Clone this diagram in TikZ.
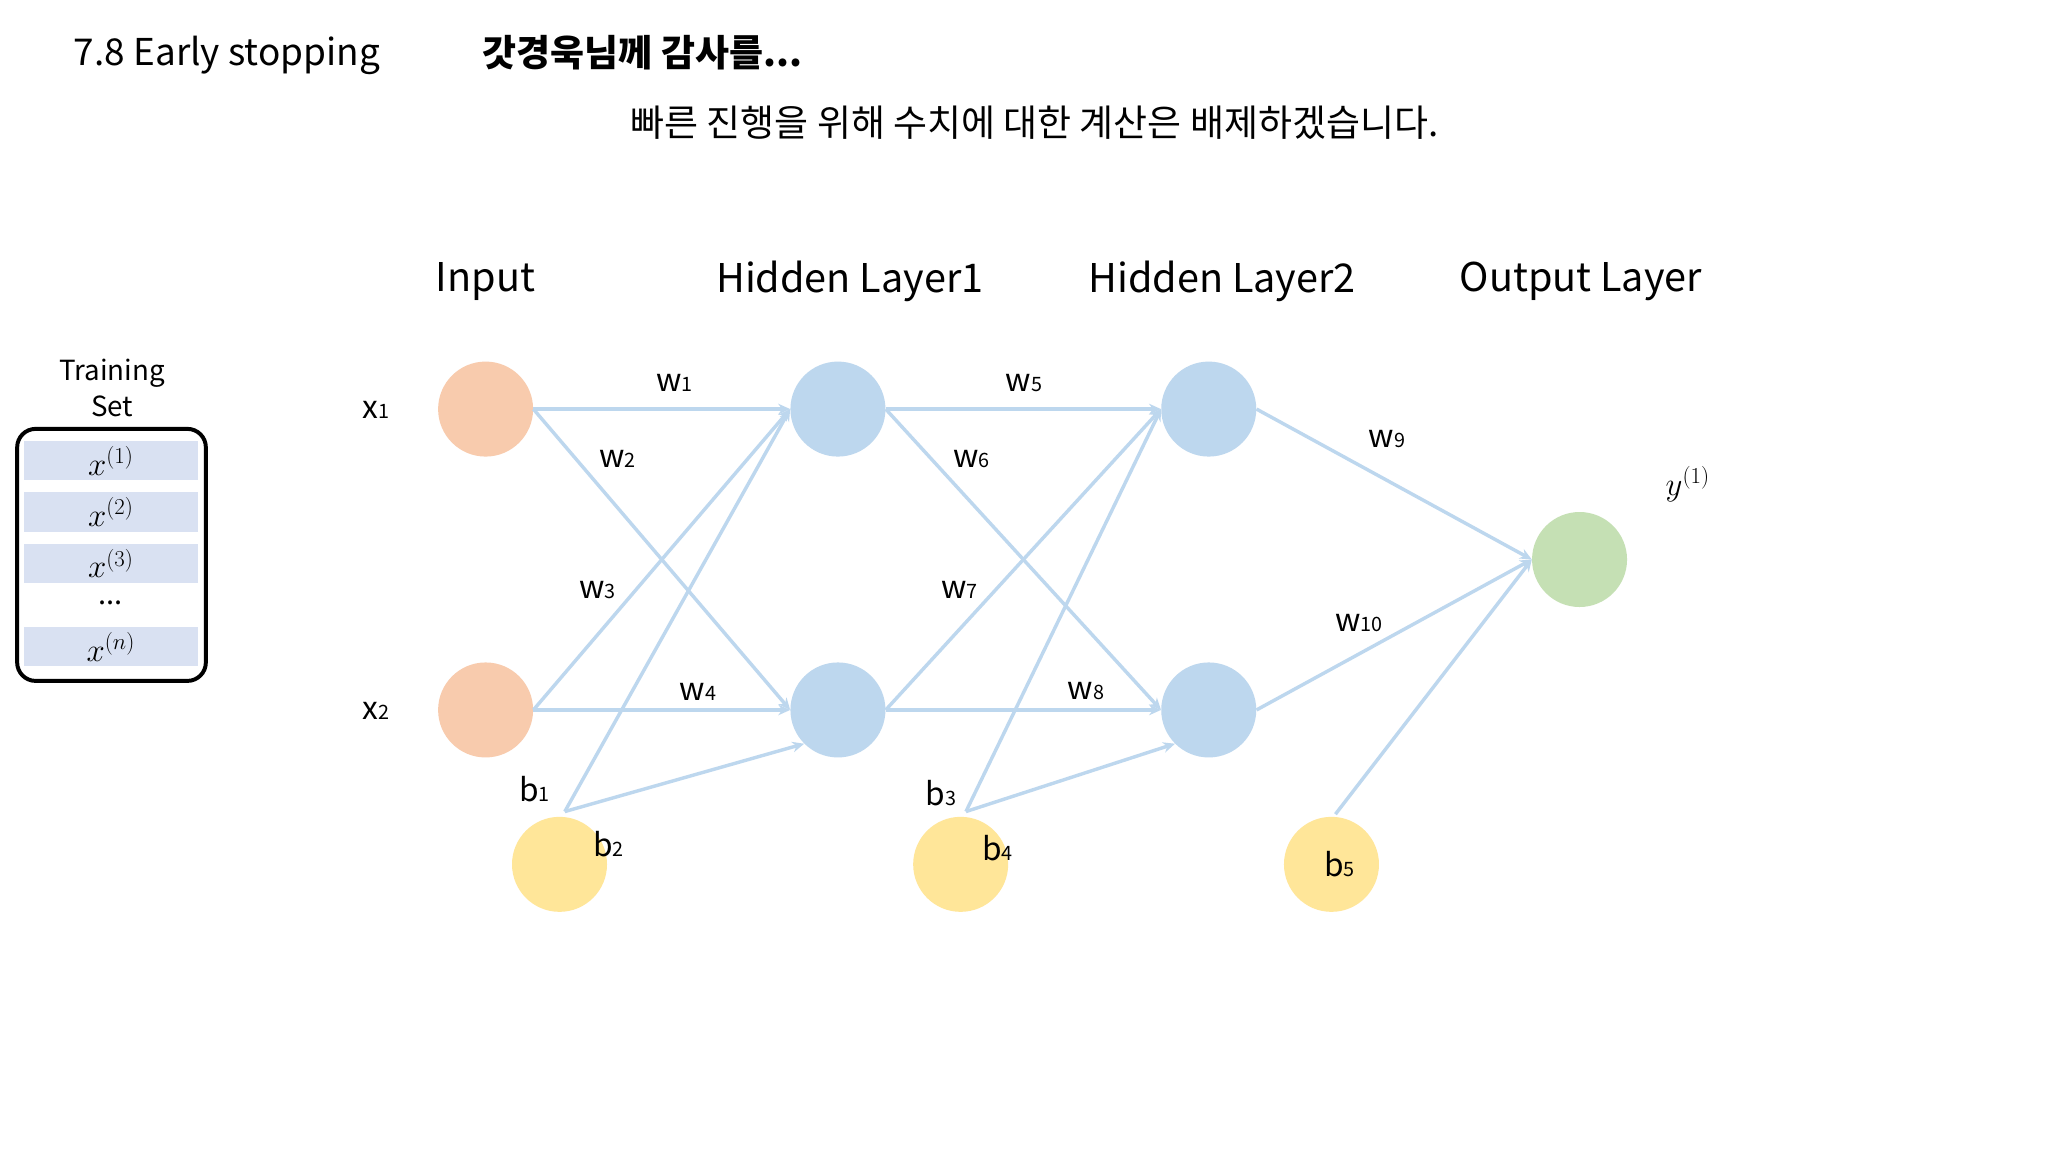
\documentclass[tikz,border=0pt]{standalone}
\usepackage{fontspec}
\setmainfont{Noto Sans CJK KR}
\usetikzlibrary{arrows.meta}
\definecolor{orn}{HTML}{F8CBAD}
\definecolor{blu}{HTML}{BDD7EE}
\definecolor{grn}{HTML}{C5E0B4}
\definecolor{yel}{HTML}{FFE699}
\definecolor{edg}{HTML}{BDD7EE}
\definecolor{row}{HTML}{D9E1F2}
\tikzset{
 neuron/.style={circle,minimum size=72pt,inner sep=0pt},
 conn/.style={draw=edg,line width=2.6pt,-{Stealth[length=9pt,width=8pt]}},
 wl/.style={font=\fontsize{24}{28}\selectfont,inner sep=0pt},
 hdr/.style={font=\fontsize{30}{34}\selectfont,inner sep=0pt},
 rowbox/.style={fill=row,minimum width=132pt,minimum height=30pt,inner sep=0pt},
}
\newcommand{\sbs}[1]{{\fontsize{15}{16}\selectfont #1}}
\begin{document}
\begin{tikzpicture}[x={(1pt,0)},y={(0,-1pt)}]
\useasboundingbox[fill=white] (0,0) rectangle (1552,873);
\node[inner sep=0pt,font=\fontsize{28}{32}\selectfont] (title) at (172,42) {7.8 Early stopping};
\node[inner sep=0pt,font=\fontsize{28}{32}\selectfont\bfseries] (thx) at (487,40) {갓경욱님께 감사를...};
\node[inner sep=0pt,font=\fontsize{28}{32}\selectfont] (sub) at (784,93) {빠른 진행을 위해 수치에 대한 계산은 배제하겠습니다.};
\node[hdr] (hi) at (368,213) {Input};
\node[hdr] (hh1) at (644,213) {Hidden Layer1};
\node[hdr] (hh2) at (926,213) {Hidden Layer2};
\node[hdr] (ho) at (1198,213) {Output Layer};
% training set
\node[align=center,inner sep=0pt,font=\fontsize{21}{27}\selectfont] (ts) at (85,294) {Training\\Set};
\draw[line width=3pt,rounded corners=14pt] (13,325) rectangle (156,516);
\node[rowbox] (r1) at (84,349) {\fontsize{24}{26}\selectfont$x^{(1)}$};
\node[rowbox] (r2) at (84,388) {\fontsize{24}{26}\selectfont$x^{(2)}$};
\node[rowbox] (r3) at (84,427) {\fontsize{24}{26}\selectfont$x^{(3)}$};
\node[inner sep=0pt,font=\fontsize{22}{24}\selectfont] (dots) at (84,457) {...};
\node[rowbox] (r4) at (84,490) {\fontsize{24}{26}\selectfont$x^{(n)}$};
% neurons
\node[neuron,fill=orn] (x1) at (368,310) {};
\node[neuron,fill=orn] (x2) at (368,538) {};
\node[neuron,fill=blu] (a1) at (635,310) {};
\node[neuron,fill=blu] (a2) at (635,538) {};
\node[neuron,fill=blu] (c1) at (916,310) {};
\node[neuron,fill=blu] (c2) at (916,538) {};
\node[neuron,fill=grn] (o) at (1197,424) {};
\node[neuron,fill=yel] (b1n) at (424,655) {};
\node[neuron,fill=yel] (b3n) at (728,655) {};
\node[neuron,fill=yel] (b5n) at (1009,655) {};
\coordinate (bs1) at (428,615);
\coordinate (bs3) at (732,615);
\coordinate (bs5) at (1012,617);
% edges
\draw[conn] (x1.east) -- (a1.west);
\draw[conn] (x1.east) -- (a2.west);
\draw[conn] (x2.east) -- (a1.west);
\draw[conn] (x2.east) -- (a2.west);
\draw[conn] (bs1) -- (a1.west);
\draw[conn] (bs1) -- (a2.south west);
\draw[conn] (a1.east) -- (c1.west);
\draw[conn] (a1.east) -- (c2.west);
\draw[conn] (a2.east) -- (c1.west);
\draw[conn] (a2.east) -- (c2.west);
\draw[conn] (bs3) -- (c1.west);
\draw[conn] (bs3) -- (c2.south west);
\draw[conn] (c1.east) -- (o.west);
\draw[conn] (c2.east) -- (o.west);
\draw[conn] (bs5) -- (o.west);
% labels
\node[wl] (lx1) at (285,311) {x\sbs{1}};
\node[wl] (lx2) at (285,539) {x\sbs{2}};
\node[wl] (w1) at (511,290) {w\sbs{1}};
\node[wl] (w2) at (468,348) {w\sbs{2}};
\node[wl] (w3) at (453,447) {w\sbs{3}};
\node[wl] (w4) at (529,524) {w\sbs{4}};
\node[wl] (w5) at (776,290) {w\sbs{5}};
\node[wl] (w6) at (736,348) {w\sbs{6}};
\node[wl] (w7) at (727,447) {w\sbs{7}};
\node[wl] (w8) at (823,524) {w\sbs{8}};
\node[wl] (w9) at (1051,333) {w\sbs{9}};
\node[wl] (w10) at (1030,472) {w\sbs{10}};
\node[wl] (lb1) at (405,598) {b\sbs{1}};
\node[wl] (lb2) at (461,640) {b\sbs{2}};
\node[wl] (lb3) at (713,601) {b\sbs{3}};
\node[wl] (lb4) at (756,643) {b\sbs{4}};
\node[wl] (lb5) at (1015,655) {b\sbs{5}};
\node[inner sep=0pt] (ly) at (1279,367) {\fontsize{24}{26}\selectfont$y^{(1)}$};
\end{tikzpicture}
\end{document}
